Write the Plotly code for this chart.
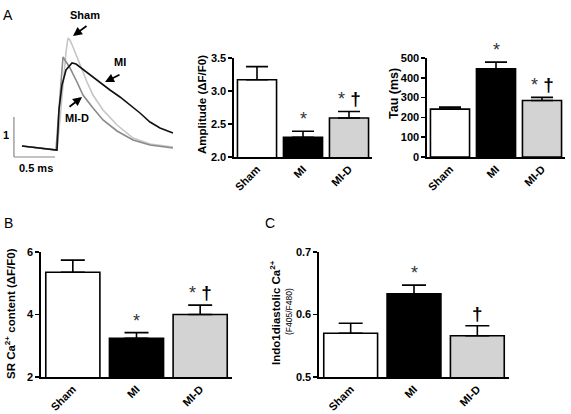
import plotly.graph_objects as go

W, H = 571, 414
FONT = "Liberation Sans, Arial, sans-serif"

# ---------------- data ----------------
groups = ["Sham", "MI", "MI-D"]
bar_fill = ["white", "black", "#d3d3d3"]

amp_mean = [3.17, 2.30, 2.59]
amp_err = [0.20, 0.09, 0.10]
amp_marks = ["", "*", "* †"]

tau_mean = [242, 446, 285]
tau_err = [10, 33, 16]
tau_marks = ["", "*", "* †"]

sr_mean = [5.35, 3.24, 4.00]
sr_err = [0.39, 0.18, 0.30]
sr_marks = ["", "*", "* †"]

indo_mean = [0.570, 0.633, 0.566]
indo_err = [0.016, 0.014, 0.016]
indo_marks = ["", "*", "†"]

# representative Ca2+ transients (time in ms, ΔF/F0)
sham_t = [0, 0.22, 0.427, 0.463, 0.50, 0.537, 0.561, 0.585, 0.622, 0.707, 0.793,
          0.866, 0.988, 1.159, 1.354, 1.561, 1.841]
sham_y = [0.10, 0.05, 0.0, 0.75, 1.625, 2.45, 2.80, 2.75, 2.575, 2.125, 1.70,
          1.375, 1.0, 0.625, 0.30, 0.15, 0.075]
mid_t = [0, 0.22, 0.415, 0.451, 0.476, 0.50, 0.524, 0.585, 0.671, 0.744, 0.866,
         0.988, 1.159, 1.354, 1.561, 1.841]
mid_y = [0.10, 0.05, 0.0, 1.0, 1.75, 2.325, 2.25, 2.05, 1.70, 1.375, 1.05,
         0.75, 0.475, 0.25, 0.125, 0.05]
mi_t = [0, 0.22, 0.427, 0.451, 0.488, 0.537, 0.61, 0.659, 0.707, 0.829, 0.951,
        1.073, 1.195, 1.317, 1.439, 1.561, 1.683, 1.841]
mi_y = [0.10, 0.05, 0.0, 1.0, 1.625, 2.0, 2.175, 2.15, 2.075, 1.875, 1.675,
        1.5, 1.325, 1.125, 0.925, 0.70, 0.55, 0.425]

amp_ticks = [2.0, 2.5, 3.0, 3.5]
tau_ticks = [0, 100, 200, 300, 400, 500]
sr_ticks = [2, 4, 6]
indo_ticks = [0.5, 0.6, 0.7]


def fx(p):
    return p / W


def fy(p):
    return 1 - p / H


fig = go.Figure()

# ---------------- transients ----------------
for t, y, c in [(sham_t, sham_y, "#c6c6c6"), (mid_t, mid_y, "#8a8a8a"), (mi_t, mi_y, "#111111")]:
    fig.add_trace(go.Scatter(x=t, y=y, mode="lines", line=dict(color=c, width=1.6),
                             xaxis="x", yaxis="y", showlegend=False, hoverinfo="skip"))

# ---------------- bar panels ----------------
panels = [
    ("2", amp_mean, amp_err, amp_marks, 11),
    ("3", tau_mean, tau_err, tau_marks, 11),
    ("4", sr_mean, sr_err, sr_marks, 12),
    ("5", indo_mean, indo_err, indo_marks, 12),
]
for ax, mean, err, marks, cap in panels:
    fig.add_trace(go.Bar(
        x=groups, y=mean, width=0.85, xaxis="x" + ax, yaxis="y" + ax,
        marker=dict(color=bar_fill, line=dict(color="black", width=1.6)),
        error_y=dict(type="data", symmetric=False, array=err, arrayminus=[0] * len(err),
                     color="black", thickness=1.6, width=cap),
        showlegend=False, hoverinfo="skip"))

annotations = []
for ax, mean, err, marks, cap in panels:
    for g, m, e, mk in zip(groups, mean, err, marks):
        if not mk:
            continue
        txt = (mk.replace("*", "<span style='color:#333;font-size:18px'>*</span>")
                 .replace("†", "<b>†</b>"))
        annotations.append(dict(x=g, y=m + e, xref="x" + ax, yref="y" + ax, text=txt,
                                showarrow=False, yanchor="bottom", yshift=0,
                                font=dict(family=FONT, size=19, color="black")))

# ---------------- axes ----------------
def ycfg(dom_y, rng, ticks, fmt, anchor):
    return dict(domain=dom_y, range=rng, tickvals=ticks, tickformat=fmt, showline=True,
                linecolor="black", linewidth=1.6, ticks="outside", ticklen=4, tickwidth=1.6,
                tickcolor="black", showgrid=False, zeroline=False, anchor=anchor,
                automargin=False,
                tickfont=dict(family=FONT, size=11, color="black", weight="bold"))


def xcfg(dom_x, anchor):
    return dict(domain=dom_x, type="category", range=[-0.5, 2.5], showline=True,
                linecolor="black", linewidth=1.6, ticks="", tickangle=-45, showgrid=False,
                zeroline=False, anchor=anchor, automargin=False,
                tickfont=dict(family=FONT, size=11, color="black", weight="bold"))


top_y = [fy(157), fy(58)]
bot_y = [fy(377), fy(252)]

layout = dict(
    template="none",
    width=W, height=H, margin=dict(l=0, r=0, t=0, b=0, pad=0),
    paper_bgcolor="white", plot_bgcolor="rgba(0,0,0,0)", bargap=0,
    xaxis=dict(domain=[0, fx(180)], range=[-0.268, 1.927], visible=False, anchor="y",
               automargin=False),
    yaxis=dict(domain=[fy(170), fy(10)], range=[-0.5, 3.5], visible=False, anchor="x",
               automargin=False),
    xaxis2=xcfg([fx(234), fx(372)], "y2"),
    yaxis2=ycfg(top_y, [2.0, 3.5], amp_ticks, ".1f", "x2"),
    xaxis3=xcfg([fx(427), fx(565)], "y3"),
    yaxis3=ycfg(top_y, [0, 500], tau_ticks, "d", "x3"),
    xaxis4=xcfg([fx(41), fx(232)], "y4"),
    yaxis4=ycfg(bot_y, [2, 6], sr_ticks, "d", "x4"),
    xaxis5=xcfg([fx(319), fx(509)], "y5"),
    yaxis5=ycfg(bot_y, [0.5, 0.7], indo_ticks, ".1f", "x5"),
)
fig.update_layout(**layout)

# scale bars for the transient panel (1 ΔF/F0 and 0.5 ms)
sb_x0, sb_y0 = -0.098, -0.175
fig.add_shape(type="line", xref="x", yref="y", x0=sb_x0, x1=sb_x0, y0=sb_y0, y1=sb_y0 + 1,
              line=dict(color="#888", width=1.2))
fig.add_shape(type="line", xref="x", yref="y", x0=sb_x0, x1=sb_x0 + 0.5, y0=sb_y0, y1=sb_y0,
              line=dict(color="#888", width=1.2))


def ptxt(x, y, text, size=11, angle=0, **kw):
    d = dict(x=fx(x), y=fy(y), xref="paper", yref="paper", text=text, showarrow=False,
             textangle=angle, font=dict(family=FONT, size=size, color="black"),
             xanchor="center", yanchor="middle")
    d.update(kw)
    return d


# transient labels and arrows
annotations += [
    ptxt(6, 135, "<b>1</b>", 11),
    ptxt(36, 168, "<b>0.5 ms</b>", 11),
    ptxt(85, 15, "<b>Sham</b>", 11),
    ptxt(120, 62, "<b>MI</b>", 11),
    ptxt(77, 118, "<b>MI-D</b>", 11),
]
for hx, hy, ax_, ay_ in [(73, 36, 15, -11), (105, 82, 16, -8), (82, 97, -14, 11)]:
    annotations.append(dict(x=fx(hx), y=fy(hy), xref="paper", yref="paper", text="",
                            showarrow=True, arrowhead=2, arrowsize=1, arrowwidth=1.8,
                            arrowcolor="black", ax=ax_, ay=ay_))

# panel letters
annotations += [
    ptxt(8, 15, "A", 14),
    ptxt(8, 223, "B", 14),
    ptxt(270, 223, "C", 14),
]

# axis titles
annotations += [
    ptxt(202, 105, "<b>Amplitude (ΔF/F0)</b>", 11.5, -90),
    ptxt(394, 94, "<b>Tau (ms)</b>", 12.5, -90),
    ptxt(10, 314, "<b>SR Ca<sup>2+</sup> content (ΔF/F0)</b>", 11.5, -90),
    ptxt(275, 313, "<b>Indo1diastolic Ca<sup>2+</sup></b>", 11.5, -90),
    ptxt(289, 312, "(F405/F480)", 8.5, -90),
]

fig.update_layout(annotations=annotations)
fig.write_html("out.html", config={"displayModeBar": False, "staticPlot": True},
               post_script="document.body.style.margin='0px';")
